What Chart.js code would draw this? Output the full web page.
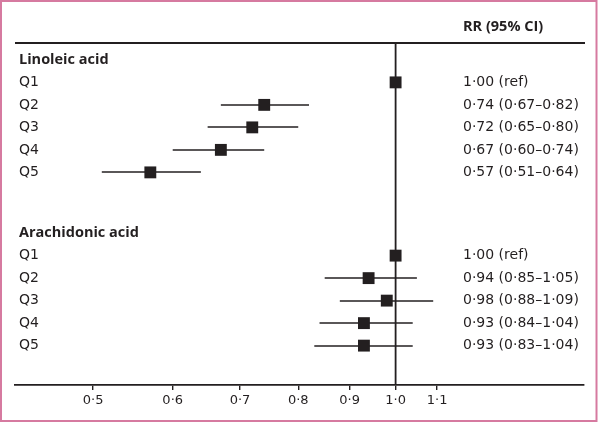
<!DOCTYPE html>
<html>
<head>
<meta charset="utf-8">
<script src="https://cdn.jsdelivr.net/npm/chart.js@4"></script>
<style>
  html, body { margin: 0; padding: 0; background: #fff; }
</style>
</head>
<body>
<canvas id="chart" width="600" height="423"></canvas>
<script>
// data
const groups = ['Linoleic acid', 'Arachidonic acid'];
const quintiles = ['Q1', 'Q2', 'Q3', 'Q4', 'Q5'];
const linoleicRR = [1.00, 0.74, 0.72, 0.67, 0.57];
const linoleicLow = [null, 0.67, 0.65, 0.60, 0.51];
const linoleicHigh = [null, 0.82, 0.80, 0.74, 0.64];
const arachidonicRR = [1.00, 0.94, 0.98, 0.93, 0.93];
const arachidonicLow = [null, 0.85, 0.88, 0.84, 0.83];
const arachidonicHigh = [null, 1.05, 1.09, 1.04, 1.04];
const xTicks = [0.5, 0.6, 0.7, 0.8, 0.9, 1.0, 1.1];

const INK = '#231f20';
const REG = '14px "DejaVu Sans"';
const BOLD = 'bold 14.5px "Open Sans"';
const firstRow = [1, 8.7]; // row index of Q1 in each group

const series = [
  { rr: linoleicRR, lo: linoleicLow, hi: linoleicHigh },
  { rr: arachidonicRR, lo: arachidonicLow, hi: arachidonicHigh },
];

const dot = (v, n) => v.toFixed(n).replace('.', '\u00b7');
const rrText = (rr, lo, hi) =>
  lo == null ? dot(rr, 2) + ' (ref)' : dot(rr, 2) + ' (' + dot(lo, 2) + '\u2013' + dot(hi, 2) + ')';

const points = [];
series.forEach((s, g) => {
  s.rr.forEach((v, i) => points.push({ x: v, y: firstRow[g] + i }));
});

const forestPlugin = {
  id: 'forest',
  beforeDatasetsDraw(chart) {
    const { ctx, chartArea, scales: { x, y } } = chart;
    ctx.save();
    ctx.strokeStyle = INK;
    // top rule
    ctx.lineWidth = 1.8;
    ctx.beginPath();
    ctx.moveTo(chartArea.left, chartArea.top);
    ctx.lineTo(chartArea.right + 1, chartArea.top);
    ctx.stroke();
    // line of no effect
    const x1 = x.getPixelForValue(1);
    ctx.beginPath();
    ctx.moveTo(x1, chartArea.top);
    ctx.lineTo(x1, chartArea.bottom);
    ctx.stroke();
    // confidence intervals
    ctx.lineWidth = 1.7;
    series.forEach((s, g) => {
      s.lo.forEach((lo, i) => {
        if (lo == null) return;
        const py = Math.round(y.getPixelForValue(firstRow[g] + i));
        ctx.beginPath();
        ctx.moveTo(x.getPixelForValue(lo), py);
        ctx.lineTo(x.getPixelForValue(s.hi[i]), py);
        ctx.stroke();
      });
    });
    ctx.restore();
  },
  afterDraw(chart) {
    const { ctx, scales: { y } } = chart;
    ctx.save();
    ctx.fillStyle = INK;
    ctx.textBaseline = 'middle';
    ctx.textAlign = 'left';
    ctx.font = BOLD;
    ctx.fillText('RR (95% CI)', 463, 27);
    series.forEach((s, g) => {
      ctx.font = BOLD;
      ctx.fillText(groups[g], 19, y.getPixelForValue(firstRow[g] - 1));
      ctx.font = REG;
      s.rr.forEach((v, i) => {
        const py = y.getPixelForValue(firstRow[g] + i);
        ctx.fillText(quintiles[i], 19, py);
        ctx.fillText(rrText(v, s.lo[i], s.hi[i]), 463, py);
      });
    });
    // frame
    ctx.strokeStyle = '#d67aa0';
    ctx.lineWidth = 2;
    ctx.strokeRect(1, 1, 595.5, 420);
    ctx.restore();
  },
};

new Chart(document.getElementById('chart'), {
  type: 'scatter',
  data: {
    datasets: [{
      data: points,
      pointStyle: 'rect',
      pointRadius: 8.4,
      pointHoverRadius: 8.4,
      backgroundColor: INK,
      borderWidth: 0,
    }],
  },
  options: {
    responsive: false,
    animation: false,
    events: [],
    layout: { padding: { left: 15, right: 16, top: 43, bottom: 0 } },
    plugins: { legend: { display: false }, tooltip: { enabled: false } },
    scales: {
      x: {
        type: 'logarithmic',
        min: 0.418,
        max: 1.54,
        afterBuildTicks: (scale) => { scale.ticks = xTicks.map((v) => ({ value: v })); },
        afterFit: (scale) => { scale.height = 38; },
        border: { display: true, color: INK, width: 1.8 },
        grid: { drawOnChartArea: false, drawTicks: true, tickLength: 5, color: INK, lineWidth: 1.4 },
        ticks: {
          padding: 3,
          color: INK,
          font: { family: 'DejaVu Sans', size: 13 },
          callback: (v) => dot(Number(v), 1),
        },
      },
      y: {
        type: 'linear',
        display: false,
        reverse: true,
        min: -0.75,
        max: 14.45,
      },
    },
  },
  plugins: [forestPlugin],
});
</script>
</body>
</html>
